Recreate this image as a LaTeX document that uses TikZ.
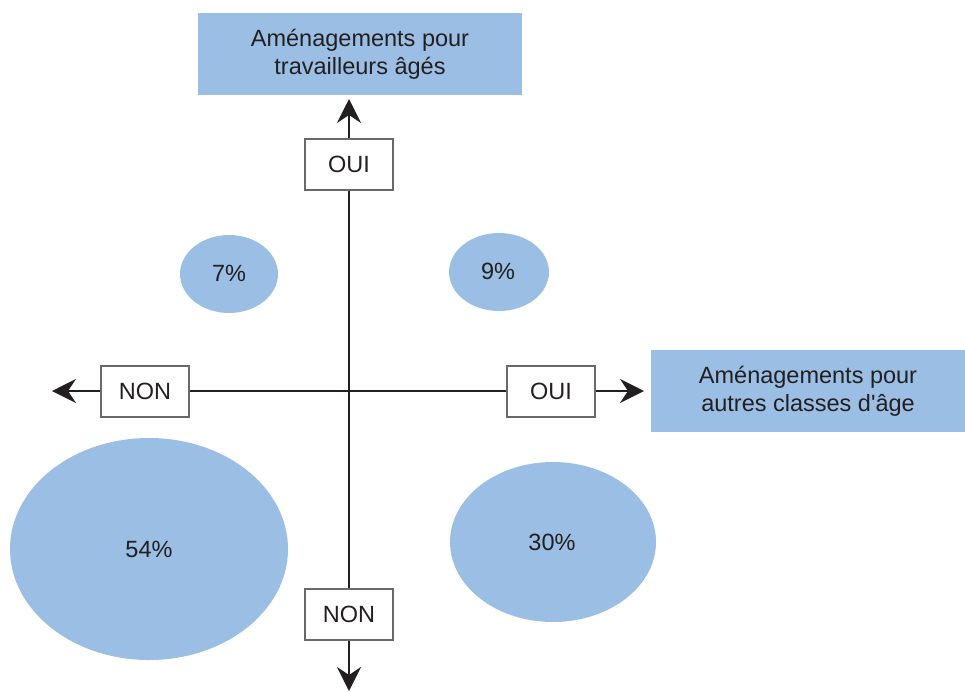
\documentclass[tikz,border=0pt]{standalone}
\usepackage{fontspec}
\setmainfont{Liberation Sans}
\usetikzlibrary{arrows.meta}
\definecolor{bluefill}{RGB}{155,191,228}
\definecolor{ink}{RGB}{35,31,32}
\definecolor{boxline}{RGB}{105,105,105}
\begin{document}
\begin{tikzpicture}[x=1pt,y=-1pt,
  every node/.style={font=\fontsize{23.5}{28}\selectfont, text=ink},
  titlebox/.style={fill=bluefill, draw=none, inner sep=0, minimum width=324, minimum height=82, align=center},
  answerbox/.style={fill=white, draw=boxline, line width=2, inner sep=0, minimum width=88, minimum height=51},
  axis/.style={draw=ink, line width=2.6},
  tip/.style={-{Stealth[length=24,width=24,inset=8]}}
]
\useasboundingbox (0,0) rectangle (965,691);
% title boxes
\node[titlebox] (tA) at (360,54) {Aménagements pour\\travailleurs âgés};
\node[titlebox, minimum width=314] (tB) at (808,391) {Aménagements pour\\autres classes d\textquotesingle âge};
% ellipses
\fill[bluefill] (229,274) ellipse [x radius=49, y radius=39];
\node (p7) at (229,273) {7\%};
\fill[bluefill] (499,272) ellipse [x radius=50, y radius=39];
\node (p9) at (498,271) {9\%};
\fill[bluefill] (149,549) ellipse [x radius=139, y radius=111];
\node (p54) at (149,549) {54\%};
\fill[bluefill] (553,542) ellipse [x radius=103, y radius=80];
\node (p30) at (552,542) {30\%};
% axis end coordinates
\coordinate (tipT) at (349,99);
\coordinate (tipB) at (349,691);
\coordinate (tipL) at (52,391);
\coordinate (tipR) at (644,391);
% answer box positions
\coordinate (cT) at (349,164);
\coordinate (cB) at (349,614);
\coordinate (cL) at (145,391);
\coordinate (cR) at (551,391);
% axes
\draw[axis] (cT) -- (cB);
\draw[axis] (cL) -- (cR);
\draw[axis, tip] (cT) -- (tipT);
\draw[axis, tip] (cB) -- (tipB);
\draw[axis, tip] (cL) -- (tipL);
\draw[axis, tip] (cR) -- (tipR);
% answer boxes
\node[answerbox] (ouiT) at (cT) {OUI};
\node[answerbox] (nonB) at (cB) {NON};
\node[answerbox] (nonL) at (cL) {NON};
\node[answerbox] (ouiR) at (cR) {OUI};
\end{tikzpicture}
\end{document}
